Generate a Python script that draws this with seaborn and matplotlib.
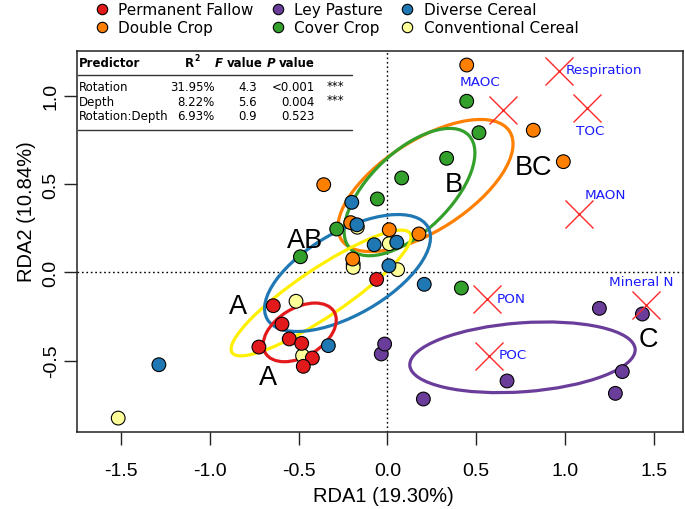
import matplotlib
matplotlib.use("Agg")
import matplotlib.pyplot as plt
from matplotlib.patches import Ellipse
from matplotlib.lines import Line2D
import seaborn as sns
import pandas as pd

# ---- data ----
groups = ["Permanent Fallow", "Double Crop", "Ley Pasture",
          "Cover Crop", "Diverse Cereal", "Conventional Cereal"]
point_colors = ["#E31A1C", "#FF7F00", "#6A3D9A", "#33A02C", "#1F78B4", "#FFFF99"]
ellipse_colors = ["#E31A1C", "#FF7F00", "#6A3D9A", "#33A02C", "#1F78B4", "#FFEF00"]

fallow_x = [-0.643, -0.594, -0.553, -0.483, -0.724, -0.423, -0.474, -0.061]
fallow_y = [-0.189, -0.293, -0.377, -0.402, -0.423, -0.485, -0.532, -0.040]
double_x = [0.446, 0.821, 0.990, -0.359, -0.207, 0.010, 0.177, -0.196]
double_y = [1.173, 0.804, 0.626, 0.496, 0.281, 0.241, 0.217, 0.075]
ley_x = [1.193, 1.435, 1.322, 1.283, 0.673, 0.202, -0.035, -0.016]
ley_y = [-0.204, -0.236, -0.562, -0.685, -0.615, -0.717, -0.462, -0.406]
cover_x = [0.446, 0.515, 0.333, 0.080, -0.057, -0.286, -0.490, 0.416]
cover_y = [0.968, 0.790, 0.645, 0.534, 0.415, 0.245, 0.088, -0.089]
diverse_x = [-1.287, -0.333, -0.201, -0.172, -0.075, 0.052, 0.008, 0.207]
diverse_y = [-0.523, -0.415, 0.396, 0.269, 0.156, 0.170, 0.037, -0.068]
conv_x = [-1.516, -0.515, -0.478, 0.010, 0.057, -0.193, -0.193, -0.170]
conv_y = [-0.825, -0.164, -0.472, 0.162, 0.015, 0.047, 0.028, 0.255]

# group ellipses: centre, semi-axes, angle (deg), same order as groups
ell_x = [-0.494, 0.214, 0.760, 0.124, -0.225, -0.374]
ell_y = [-0.340, 0.491, -0.481, 0.454, -0.004, -0.117]
ell_a = [0.226, 0.564, 0.636, 0.463, 0.522, 0.604]
ell_b = [0.137, 0.254, 0.195, 0.226, 0.235, 0.135]
ell_angle = [31.4, 33.0, 4.2, 44.0, 30.0, 34.0]

# response variables
vec_names = ["MAOC", "Respiration", "TOC", "MAON", "PON", "POC", "Mineral N"]
vec_x = [0.649, 0.964, 1.121, 1.078, 0.558, 0.573, 1.454]
vec_y = [0.920, 1.137, 0.930, 0.330, -0.151, -0.475, -0.185]
vec_label_x = [0.521, 1.219, 1.140, 1.225, 0.694, 0.705, 1.431]
vec_label_y = [1.079, 1.147, 0.801, 0.443, -0.147, -0.466, -0.053]

# significance letters
letters = ["A", "A", "AB", "B", "BC", "C"]
letter_x = [-0.840, -0.671, -0.463, 0.371, 0.821, 1.469]
letter_y = [-0.189, -0.594, 0.183, 0.500, 0.598, -0.377]

# PERMANOVA table
predictors = ["Rotation", "Depth", "Rotation:Depth"]
r2_vals = ["31.95%", "8.22%", "6.93%"]
f_vals = ["4.3", "5.6", "0.9"]
p_vals = ["<0.001", "0.004", "0.523"]
signif = ["***", "***", ""]

xticks = [-1.5, -1.0, -0.5, 0.0, 0.5, 1.0, 1.5]
yticks = [-0.5, 0.0, 0.5, 1.0]

# ---- build table for seaborn (drawing order matters for overlaps) ----
pts = {
    "Conventional Cereal": (conv_x, conv_y),
    "Double Crop": (double_x, double_y),
    "Diverse Cereal": (diverse_x, diverse_y),
    "Cover Crop": (cover_x, cover_y),
    "Ley Pasture": (ley_x, ley_y),
    "Permanent Fallow": (fallow_x, fallow_y),
}
df = pd.concat([pd.DataFrame({"RDA1": xs, "RDA2": ys, "Rotation": g})
                for g, (xs, ys) in pts.items()], ignore_index=True)
palette = dict(zip(groups, point_colors))

sns.set_style("white")
plt.rcParams["font.family"] = ["Liberation Sans", "DejaVu Sans"]
plt.rcParams["text.color"] = "black"
plt.rcParams["xtick.color"] = "black"
plt.rcParams["ytick.color"] = "black"
plt.rcParams["axes.labelcolor"] = "black"

W, H = 685, 510
fig = plt.figure(figsize=(6.85, 5.1), dpi=100)
ax = fig.add_axes([77 / W, 1 - 432.7 / H, (682.7 - 77) / W, (432.7 - 51.7) / H])


def fx(px):
    return px / W


def fy(py):
    return 1 - py / H


ax.axhline(0, color="black", lw=1, ls=(0, (1.2, 2)), zorder=1)
ax.axvline(0, color="black", lw=1, ls=(0, (1.2, 2)), zorder=1)

ell_order = [1, 3, 5, 4, 0, 2]
for i in ell_order:
    ax.add_patch(Ellipse((ell_x[i], ell_y[i]), 2 * ell_a[i], 2 * ell_b[i],
                         angle=ell_angle[i], fill=False,
                         edgecolor=ellipse_colors[i], lw=2.3, zorder=2))

sns.scatterplot(data=df, x="RDA1", y="RDA2", hue="Rotation", palette=palette,
                s=98, edgecolor="black", linewidth=0.8, legend=False,
                ax=ax, zorder=3)

ax.plot(vec_x, vec_y, ls="none", marker="x", ms=20, mew=1.0,
        color="#FF2A2A", zorder=4)
for name, lx, ly in zip(vec_names, vec_label_x, vec_label_y):
    ax.text(lx, ly, name, color="#1A1AFF", fontsize=9.7, ha="center",
            va="center", family="DejaVu Sans", zorder=5)

for t, lx, ly in zip(letters, letter_x, letter_y):
    ax.text(lx, ly, t, fontsize=19.5, ha="center", va="center",
            color="black", zorder=5)

ax.set_xlim(-1.748, 1.662)
ax.set_ylim(-0.902, 1.254)
ax.set_xticks(xticks)
ax.set_yticks(yticks)
ax.set_xticklabels([f"{v:.1f}" for v in xticks])
ax.set_yticklabels([f"{v:.1f}" for v in yticks], rotation=90, va="center")
ax.tick_params(direction="out", length=9.5, width=1, labelsize=14,
               bottom=True, left=True, color="#222222", labelcolor="black")
ax.tick_params(axis="x", pad=12.5)
ax.tick_params(axis="y", pad=3)
for sp in ax.spines.values():
    sp.set_color("#222222")
    sp.set_linewidth(1.1)
ax.set_xlabel("")
ax.set_ylabel("")
fig.text(fx(383), fy(497), "RDA1 (19.30%)", fontsize=14.5, ha="center", va="center")
fig.text(fx(26), fy(212), "RDA2 (10.84%)", fontsize=14.5, ha="center",
         va="center", rotation=90)

# ---- table in the top-left corner ----
tfont = dict(fontsize=8.5, family="DejaVu Sans", va="center")
fig.text(fx(79), fy(63.3), "Predictor", fontweight="bold", ha="left", **tfont)
fig.text(fx(185), fy(63.3), "R", fontweight="bold", ha="left", **tfont)
fig.text(fx(194), fy(58.5), "2", fontweight="bold", ha="left",
         fontsize=5.5, family="DejaVu Sans", va="center")
fig.text(fx(215), fy(63.3), "F", fontweight="bold", style="italic", ha="left", **tfont)
fig.text(fx(226.5), fy(63.3), "value", fontweight="bold", ha="left", **tfont)
fig.text(fx(267), fy(63.3), "P", fontweight="bold", style="italic", ha="left", **tfont)
fig.text(fx(279), fy(63.3), "value", fontweight="bold", ha="left", **tfont)
row_y = [87.7, 102.3, 116.7]
for i, ry in enumerate(row_y):
    fig.text(fx(79), fy(ry), predictors[i], ha="left", **tfont)
    fig.text(fx(214.3), fy(ry), r2_vals[i], ha="right", **tfont)
    fig.text(fx(256.7), fy(ry), f_vals[i], ha="right", **tfont)
    fig.text(fx(315), fy(ry), p_vals[i], ha="right", **tfont)
    fig.text(fx(326.7), fy(ry - 1.5), signif[i], ha="left", **tfont)
for ly in [75.7, 131]:
    fig.add_artist(Line2D([fx(78), fx(352)], [fy(ly), fy(ly)],
                          color="#333333", lw=1.0))

# ---- legend above the plot ----
handles = [Line2D([], [], ls="none", marker="o", ms=7.5, mfc=c,
                  mec="black", mew=0.8) for c in point_colors]
fig.legend(handles, groups, ncol=3, loc="upper left",
           bbox_to_anchor=(fx(95.6), fy(3)), frameon=False,
           prop={"family": "DejaVu Sans", "size": 11},
           handlelength=0.8, handletextpad=0.69, columnspacing=1.17,
           labelspacing=0.2, borderpad=0, borderaxespad=0)

fig.savefig("out.png", dpi=100)
